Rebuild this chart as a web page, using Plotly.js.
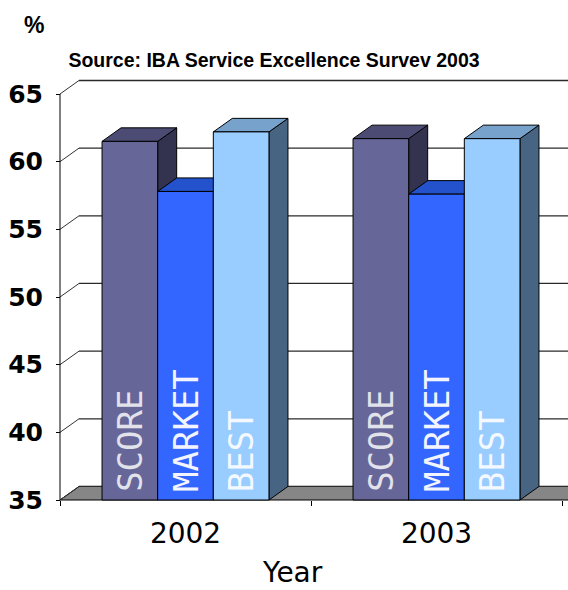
<!DOCTYPE html>
<html>
<head>
<meta charset="utf-8">
<script src="https://cdn.plot.ly/plotly-3.0.1.min.js"></script>
<style>html,body{margin:0;padding:0;background:#fff;}#chart{width:568px;height:590px;}</style>
</head>
<body>
<div id="chart"></div>
<script>
// ---- data ----
const years = ['2002', '2003'];
const seriesNames = ['SCORE', 'MARKET', 'BEST'];
const score = [61.5, 61.7];
const market = [57.8, 57.6];
const best = [62.2, 61.7];
const yTicks = [35, 40, 45, 50, 55, 60, 65];

// ---- styling / geometry ----
const frontColors = ['#666699', '#3366ff', '#99ccff'];
const topColors = ['#4b4b74', '#2352cc', '#76a2cc'];
const sideColors = ['#33334f', '#1a3d99', '#476583'];
const labelColors = ['#e2e2ea', '#f2f4ff', '#f4f9ff'];
const base = 35, yTop = 65;
const bargap = 0.335;
const barW = (1 - bargap) / 3;
const dX = 19 / 251;   // depth offset in x units
const dY = 1.0;        // depth offset in y units
const xRange = [-0.5 - 2 / 251, -0.5 + 508 / 251];
const yRange = [35 - 2 / 13.533, 35 + 422 / 13.533];

const values = [score, market, best];
const cats = years.map((_, k) => k);

const traces = [];
// floor
traces.push({
  x: [-0.5, 2.0, 2.0 + dX, -0.5 + dX, -0.5],
  y: [base, base, base + dY, base + dY, base],
  mode: 'lines', fill: 'toself', fillcolor: '#868686',
  line: {color: '#000', width: 1}, hoverinfo: 'skip', showlegend: false
});
// left wall diagonals
yTicks.forEach(v => traces.push({
  x: [-0.5, -0.5 + dX], y: [v, v + dY], mode: 'lines',
  line: {color: '#333', width: 1}, hoverinfo: 'skip', showlegend: false
}));
// back wall gridlines
yTicks.forEach(v => traces.push({
  x: [-0.5 + dX, 2.2], y: [v + dY, v + dY], mode: 'lines',
  line: {color: '#2a2a2a', width: v === yTop ? 1.6 : 1.3}, hoverinfo: 'skip', showlegend: false
}));
// 3D tops and sides of bars, left to right
const barLabels = [];
cats.forEach(k => {
  seriesNames.forEach((nm, i) => {
    const v = values[i][k];
    const c = k + (i - 1) * barW;
    const l = c - barW / 2, r = c + barW / 2;
    traces.push({
      x: [r, r + dX, r + dX, r, r], y: [base, base + dY, v + dY, v, base],
      mode: 'lines', fill: 'toself', fillcolor: sideColors[i],
      line: {color: '#000', width: 1}, hoverinfo: 'skip', showlegend: false
    });
    traces.push({
      x: [l, r, r + dX, l + dX, l], y: [v, v, v + dY, v + dY, v],
      mode: 'lines', fill: 'toself', fillcolor: topColors[i],
      line: {color: '#000', width: 1}, hoverinfo: 'skip', showlegend: false
    });
    barLabels.push({
      text: nm, xref: 'x', yref: 'y', x: c, y: base, xanchor: 'center', yanchor: 'bottom',
      yshift: 7, textangle: -90, showarrow: false, borderpad: 0,
      font: {family: 'DejaVu Sans Mono', size: 34, color: labelColors[i]}
    });
  });
});
// front faces of bars
seriesNames.forEach((nm, i) => {
  traces.push({
    type: 'bar', name: nm, x: cats, y: values[i].map(v => v - base), base: base,
    xaxis: 'x2', yaxis: 'y2',
    marker: {color: frontColors[i], line: {color: '#000', width: 1}},
    customdata: values[i], hovertemplate: nm + ' %{customdata}<extra></extra>',
    showlegend: false
  });
});

const layout = {
  width: 568, height: 590,
  margin: {l: 58, r: 0, t: 78, b: 88},
  paper_bgcolor: '#fff', plot_bgcolor: '#fff',
  showlegend: false,
  barmode: 'group', bargap: bargap, bargroupgap: 0,
  title: {
    text: '<b>Source: IBA Service Excellence Survev 2003</b>',
    font: {family: 'Liberation Sans, Arial, sans-serif', size: 19.5, color: '#000'},
    x: (274 - 58) / 510, xref: 'paper', xanchor: 'center',
    y: 1 - 60 / 590, yref: 'container', yanchor: 'middle'
  },
  xaxis: {
    range: xRange, anchor: 'free', position: 2 / 424,
    tickmode: 'array', tickvals: cats, ticktext: years, ticks: '',
    ticklabelstandoff: 14,
    tickfont: {family: 'DejaVu Sans', size: 28, color: '#000'},
    minor: {tickmode: 'array', tickvals: [-0.5, 0.5, 1.5], ticks: 'outside', ticklen: 5, tickcolor: '#000', tickwidth: 1, showgrid: false},
    showgrid: false, zeroline: false, showline: false, fixedrange: true
  },
  yaxis: {
    range: yRange, anchor: 'free', position: 2 / 510,
    tickmode: 'array', tickvals: yTicks, ticks: 'outside', ticklen: 4, tickcolor: '#000',
    ticklabelstandoff: 8,
    tickfont: {family: 'DejaVu Sans', size: 25, weight: 'bold', color: '#000'},
    showgrid: false, zeroline: false, showline: false, fixedrange: true
  },
  xaxis2: {range: xRange, overlaying: 'x', anchor: 'y2', visible: false, fixedrange: true},
  yaxis2: {range: yRange, overlaying: 'y', anchor: 'x2', visible: false, fixedrange: true},
  shapes: [{
    type: 'line', xref: 'x', yref: 'y', x0: -0.5, x1: -0.5, y0: base, y1: yTop,
    line: {color: '#000', width: 1}
  }],
  annotations: barLabels.concat([
    {text: '<b>%</b>', xref: 'paper', yref: 'paper', x: (34 - 58) / 510, y: (502 - 25) / 424,
     xanchor: 'center', yanchor: 'middle', showarrow: false,
     font: {family: 'Liberation Sans, Arial, sans-serif', size: 23, color: '#000'}},
    {text: 'Year', xref: 'paper', yref: 'paper', x: (292 - 58) / 510, y: (502 - 590) / 424,
     xanchor: 'center', yanchor: 'bottom', showarrow: false, borderpad: 0,
     font: {family: 'DejaVu Sans', size: 28, color: '#000'}}
  ])
};

Plotly.newPlot('chart', traces, layout, {displayModeBar: false, staticPlot: true});
</script>
</body>
</html>
